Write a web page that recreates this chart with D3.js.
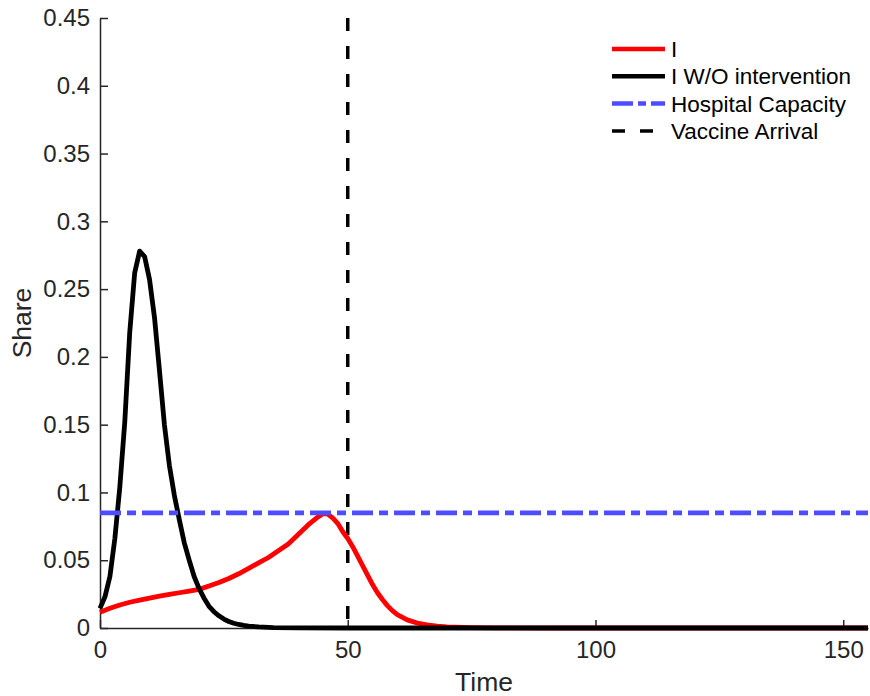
<!DOCTYPE html>
<html>
<head>
<meta charset="utf-8">
<script src="https://cdn.jsdelivr.net/npm/d3@7"></script>
<style>
  html, body { margin: 0; padding: 0; background: #fff; }
  svg { display: block; }
  text { font-family: "Liberation Sans", Arial, Helvetica, sans-serif; fill: #262626; }
</style>
</head>
<body>
<svg id="chart" width="870" height="696"></svg>
<script>
// ---- data ----
const tRed = [0,2,4,6,8,10,12,14,16,18,20,22,24,26,28,30,32,34,36,38,40,42,43,44,45,46,47,48,49,50,51,52,53,54,55,56,57,58,59,60,62,64,66,68,70,75,80,90,155];
const red  = [0.0117,0.0145,0.017,0.019,0.0205,0.022,0.0235,0.0248,0.026,0.0272,0.0285,0.031,0.0335,0.0365,0.040,0.044,0.048,0.052,0.057,0.062,0.069,0.076,0.079,0.082,0.0843,0.084,0.081,0.077,0.071,0.066,0.060,0.053,0.046,0.039,0.032,0.026,0.021,0.0165,0.0128,0.0099,0.006,0.0037,0.0023,0.0014,0.0009,0.0003,0.0001,0,0];

const tBlack = [0,1,2,3,4,5,6,7,8,9,10,11,12,13,14,15,16,17,18,19,20,21,22,23,24,25,26,27,28,29,30,32,35,40,50,155];
const black  = [0.0145,0.023,0.038,0.066,0.104,0.152,0.218,0.262,0.278,0.274,0.257,0.229,0.190,0.150,0.120,0.098,0.080,0.063,0.050,0.038,0.029,0.022,0.016,0.012,0.009,0.0066,0.0048,0.0035,0.0026,0.0019,0.0014,0.0008,0.0003,0.0001,0,0];

const hospitalCapacity = 0.085;
const vaccineArrival = 50;

const xTicks = [0,50,100,150];
const yTicks = [0,0.05,0.1,0.15,0.2,0.25,0.3,0.35,0.4,0.45];
const yTickLabels = ["0","0.05","0.1","0.15","0.2","0.25","0.3","0.35","0.4","0.45"];

const legendLabels = ["I","I W/O intervention","Hospital Capacity","Vaccine Arrival"];

// ---- layout ----
const svg = d3.select("#chart");
const mLeft = 100, mRight = 868, mTop = 18, mBottom = 628;
const x = d3.scaleLinear().domain([0,155]).range([mLeft,mRight]);
const y = d3.scaleLinear().domain([0,0.45]).range([mBottom,mTop]);
const axisColor = "#262626";
const blue = "rgb(77,77,255)";

// axes
const xAxis = d3.axisBottom(x).tickValues(xTicks).tickSizeInner(-8).tickSizeOuter(0).tickPadding(13).tickFormat(d3.format("d"));
const yAxis = d3.axisLeft(y).tickValues(yTicks).tickSizeInner(-8).tickSizeOuter(0).tickPadding(10).tickFormat((d,i)=>yTickLabels[i]);

const gx = svg.append("g").attr("transform",`translate(0,${mBottom})`).call(xAxis);
const gy = svg.append("g").attr("transform",`translate(${mLeft},0)`).call(yAxis);
[gx,gy].forEach(g=>{
  g.select(".domain").attr("stroke",axisColor).attr("stroke-width",1.5);
  g.selectAll(".tick line").attr("stroke",axisColor).attr("stroke-width",1.5);
  g.selectAll(".tick text").attr("fill",axisColor).style("font-size","24px")
    .style("font-family",'"Liberation Sans", Arial, Helvetica, sans-serif');
});

// axis labels
svg.append("text").attr("x",(mLeft+mRight)/2).attr("y",691).attr("text-anchor","middle")
  .style("font-size","26.5px").text("Time");
svg.append("text").attr("transform",`translate(31,${(mTop+mBottom)/2}) rotate(-90)`).attr("text-anchor","middle")
  .style("font-size","26.5px").text("Share");

// vaccine arrival
svg.append("line").attr("x1",x(vaccineArrival)).attr("x2",x(vaccineArrival))
  .attr("y1",y(0.45)).attr("y2",y(0))
  .attr("stroke","#000").attr("stroke-width",3.5).attr("stroke-dasharray","13,15");

const line = d3.line().x(d=>x(d[0])).y(d=>y(d[1]));

svg.append("path").datum(tRed.map((t,i)=>[t,red[i]])).attr("d",line)
  .attr("fill","none").attr("stroke","#ff0000").attr("stroke-width",4.8).attr("stroke-linejoin","round");
svg.append("path").datum(tBlack.map((t,i)=>[t,black[i]])).attr("d",line)
  .attr("fill","none").attr("stroke","#000").attr("stroke-width",4.8).attr("stroke-linejoin","round");

// hospital capacity
svg.append("line").attr("x1",x(0)).attr("x2",x(155))
  .attr("y1",y(hospitalCapacity)).attr("y2",y(hospitalCapacity))
  .attr("stroke",blue).attr("stroke-width",4.8).attr("stroke-dasharray","21,6,9,6");

// legend
const legStyles = [
  {stroke:"#ff0000", dash:null, w:4.5},
  {stroke:"#000", dash:null, w:4.5},
  {stroke:blue, dash:"21,5,8,5", w:4.5},
  {stroke:"#000", dash:"13,15", w:3.5}
];
const legY0 = 49, legDy = 27.3;
legendLabels.forEach((lab,i)=>{
  const yy = legY0 + i*legDy;
  const s = legStyles[i];
  const l = svg.append("line").attr("x1",612).attr("x2",665).attr("y1",yy).attr("y2",yy)
    .attr("stroke",s.stroke).attr("stroke-width",s.w);
  if (s.dash) l.attr("stroke-dasharray",s.dash);
  svg.append("text").attr("x",671).attr("y",yy+8).style("font-size","22.5px").style("fill","#000").text(lab);
});
</script>
</body>
</html>
